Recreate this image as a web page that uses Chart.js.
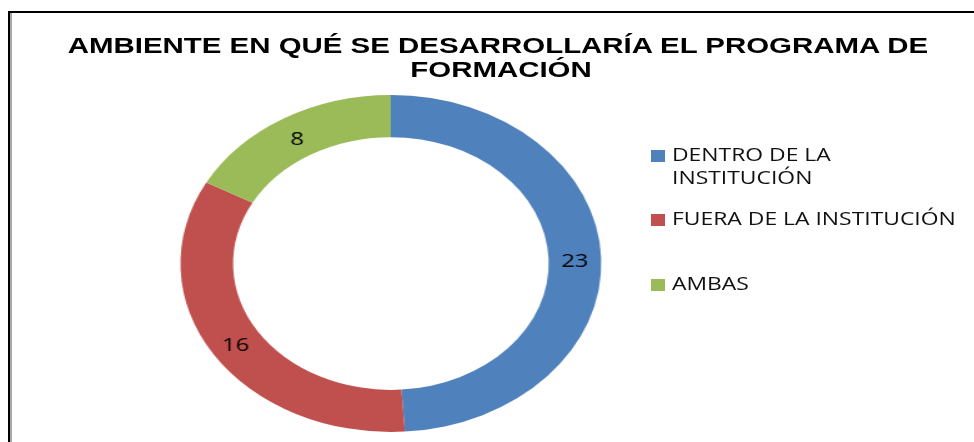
<!DOCTYPE html>
<html>
<head>
<meta charset="utf-8">
<script src="https://cdn.jsdelivr.net/npm/chart.js@4.4.0/dist/chart.umd.min.js"></script>
<style>
html,body{margin:0;padding:0;background:#fff;width:974px;height:442px;overflow:hidden;position:relative}
#frame{position:absolute;left:8px;top:11px;width:990px;height:460px;border-left:2px solid #000;border-top:2px solid #000}
#frame2{position:absolute;left:10px;top:13px;width:2px;height:440px;background:#a8a8a8}
#chartBox{position:absolute;left:0;top:0;width:780px;height:442px;transform-origin:0 0;transform:scaleX(1.24872)}
.tl{position:absolute;font:bold 22px "Liberation Sans",Arial,sans-serif;line-height:22px;white-space:nowrap;color:#000;transform-origin:50% 50%}
.lg{position:absolute;left:672px;font:19px "Open Sans",sans-serif;line-height:23.3px;color:#111;transform-origin:0 0}
.sw{position:absolute;left:651px;width:14px;height:12px}
</style>
</head>
<body>
<div id="frame"></div>
<div id="frame2"></div>
<div id="chartBox"><canvas id="c"></canvas></div>
<div id="titleLayer"></div>
<div id="legendLayer"></div>
<script>
// ---- data ----
const titleLines = ["AMBIENTE EN QUÉ SE DESARROLLARÍA EL PROGRAMA DE", "FORMACIÓN"];
const categories = ["DENTRO DE LA INSTITUCIÓN", "FUERA DE LA INSTITUCIÓN", "AMBAS"];
const values = [23, 16, 8];

// ---- styles ----
const colors = ["#4F81BD", "#C0504D", "#9BBB59"];

// title (real text)
const titleLayer = document.getElementById('titleLayer');
const titlePos = [{cx: 498, base: 53.5, target: 860}, {cx: 501, base: 78, target: null}];
let titleScale = 1;
titleLines.forEach((t, i) => {
  const d = document.createElement('div');
  d.className = 'tl';
  d.textContent = t;
  titleLayer.appendChild(d);
  if (i === 0) titleScale = titlePos[0].target / d.offsetWidth;
  d.style.left = titlePos[i].cx + 'px';
  d.style.top = (titlePos[i].base - 18.6) + 'px';
  d.style.transform = 'translateX(-50%) scaleX(' + titleScale + ')';
});

// legend (real text)
const legendLayer = document.getElementById('legendLayer');
const probe = document.createElement('span');
probe.className = 'lg';
probe.style.whiteSpace = 'nowrap';
probe.textContent = categories[1];
legendLayer.appendChild(probe);
const w0 = probe.offsetWidth;
legendLayer.removeChild(probe);
const legScale = 284.4 / w0;
const legBase = [161.7, 226, 291];
categories.forEach((t, i) => {
  const sw = document.createElement('div');
  sw.className = 'sw';
  sw.style.background = colors[i];
  sw.style.top = Math.round(legBase[i] - 12) + 'px';
  legendLayer.appendChild(sw);
  const d = document.createElement('div');
  d.className = 'lg';
  d.textContent = t;
  d.style.width = (w0 + 3) + 'px';
  d.style.top = (legBase[i] - 19.0) + 'px';
  d.style.transform = 'scaleX(' + legScale + ')';
  legendLayer.appendChild(d);
});

// data labels drawn at each arc's centre
const arcLabels = {
  id: 'arcLabels',
  afterDatasetsDraw(chart) {
    const ctx = chart.ctx;
    const meta = chart.getDatasetMeta(0);
    ctx.save();
    ctx.font = '19px "Open Sans", sans-serif';
    ctx.fillStyle = '#000';
    ctx.textAlign = 'center';
    ctx.textBaseline = 'middle';
    meta.data.forEach((arc, i) => {
      const p = arc.tooltipPosition();
      ctx.fillText(String(chart.data.datasets[0].data[i]), p.x, p.y + 3);
    });
    ctx.restore();
  }
};

new Chart(document.getElementById('c'), {
  type: 'doughnut',
  data: {
    labels: categories,
    datasets: [{
      data: values,
      backgroundColor: colors,
      borderWidth: 0,
      hoverOffset: 0,
      offset: 0
    }]
  },
  options: {
    responsive: true,
    maintainAspectRatio: false,
    animation: false,
    events: [],
    cutout: '75%',
    rotation: 0,
    layout: {padding: {top: 95, bottom: 10, left: 0, right: 154}},
    plugins: {
      legend: {display: false},
      title: {display: false},
      tooltip: {enabled: false}
    }
  },
  plugins: [arcLabels]
});
</script>
</body>
</html>
